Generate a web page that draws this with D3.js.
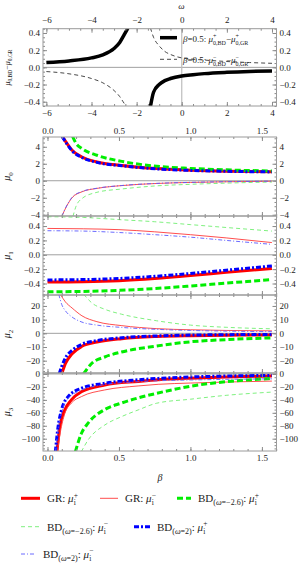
<!DOCTYPE html>
<html>
<head>
<meta charset="utf-8">
<script src="https://cdnjs.cloudflare.com/ajax/libs/d3/7.8.5/d3.min.js"></script>
<style>
body { margin: 0; background: #fff; }
svg text { font-family: "Liberation Serif", "DejaVu Serif", serif; fill: #222; }
</style>
</head>
<body>
<div class="content"></div>
<script>
// VARIABLES
var w = 302,
    h = 572,
    x0 = 43,
    x1 = 276.5,
    serif = '"Liberation Serif", "DejaVu Serif", serif';

// DATA - top panel (beta = 0.5), difference BD - GR against omega
var omPlusL  = [-6, -5, -4, -3.5, -3, -2.75, -2.55, -2.38];
var difPlusL = [0.056, 0.075, 0.11, 0.145, 0.22, 0.29, 0.38, 0.46];
var omPlusR  = [-1.39, -1.25, -1, -0.75, -0.5, 0, 0.5, 1, 2, 3, 4];
var difPlusR = [-0.46, -0.29, -0.2, -0.155, -0.13, -0.1, -0.085, -0.073, -0.058, -0.048, -0.042];
var omMinL   = [-6, -5, -4, -3.5, -3, -2.75, -2.6, -2.45];
var difMinL  = [-0.049, -0.075, -0.13, -0.18, -0.27, -0.34, -0.4, -0.46];
var omMinR   = [-1.39, -1.25, -1, -0.75, -0.5, 0, 0.5, 1, 2, 3, 4];
var difMinR  = [0.46, 0.35, 0.25, 0.185, 0.15, 0.11, 0.095, 0.085, 0.068, 0.056, 0.047];

// DATA - mu0 against beta
var b0GRp = [0.105, 0.137, 0.172, 0.241, 0.346, 0.52, 0.765, 1.0, 1.25, 1.57];
var v0GRp = [5.2, 4.37, 3.59, 2.8, 2.21, 1.8, 1.43, 1.25, 1.13, 1.06];
var b0GRm = [0.1, 0.137, 0.172, 0.241, 0.346, 0.52, 0.765, 1.0, 1.25, 1.57];
var v0GRm = [-4.2, -2.9, -2.0, -1.3, -0.9, -0.57, -0.32, -0.2, -0.12, -0.06];
var b0Ap  = [0.176, 0.2, 0.241, 0.346, 0.52, 0.765, 1.0, 1.25, 1.57];
var v0Ap  = [5.2, 4.4, 3.8, 3.0, 2.28, 1.7, 1.45, 1.28, 1.15];
var b0Am  = [0.178, 0.2, 0.241, 0.346, 0.52, 0.765, 1.0, 1.25, 1.57];
var v0Am  = [-4.2, -3.0, -2.1, -1.36, -0.97, -0.6, -0.42, -0.28, -0.15];
var b0Bp  = [0.103, 0.137, 0.172, 0.241, 0.346, 0.52, 0.765, 1.0, 1.25, 1.57];
var v0Bp  = [5.2, 4.3, 3.52, 2.74, 2.16, 1.76, 1.4, 1.22, 1.11, 1.04];
var b0Bm  = [0.1, 0.137, 0.172, 0.241, 0.346, 0.52, 0.765, 1.0, 1.25, 1.57];
var v0Bm  = [-4.2, -2.85, -1.95, -1.27, -0.88, -0.56, -0.31, -0.19, -0.11, -0.05];

// DATA - mu1 against beta
var b1    = [0, 0.25, 0.5, 0.75, 1.0, 1.25, 1.57];
var v1GRp = [-0.38, -0.375, -0.36, -0.33, -0.29, -0.245, -0.19];
var v1GRm = [0.367, 0.362, 0.35, 0.32, 0.28, 0.235, 0.17];
var v1Ap  = [-0.515, -0.51, -0.495, -0.47, -0.435, -0.395, -0.345];
var v1Am  = [0.53, 0.52, 0.49, 0.46, 0.42, 0.38, 0.33];
var v1Bp  = [-0.35, -0.345, -0.33, -0.3, -0.26, -0.215, -0.155];
var v1Bm  = [0.335, 0.33, 0.31, 0.28, 0.245, 0.2, 0.145];

// DATA - mu2 against beta
var b2GRp = [0.1, 0.125, 0.172, 0.241, 0.346, 0.52, 0.765, 1.0, 1.25, 1.57];
var v2GRp = [-29.5, -22.2, -14.9, -9.5, -6.4, -3.9, -2.3, -1.7, -1.4, -1.2];
var b2GRm = [0.09, 0.125, 0.172, 0.241, 0.346, 0.52, 0.765, 1.0, 1.25, 1.57];
var v2GRm = [28.5, 23, 18.5, 12.8, 8.5, 5.6, 3.4, 2.6, 2.1, 1.8];
var b2Ap  = [0.253, 0.307, 0.4, 0.517, 0.762, 1.0, 1.25, 1.57];
var v2Ap  = [-29.5, -22.2, -17.3, -13.7, -9.3, -6.2, -4.6, -3.3];
var b2Am  = [0.254, 0.307, 0.4, 0.517, 0.762, 1.0, 1.25, 1.57];
var v2Am  = [28.5, 22.5, 17.6, 14, 9.2, 6.0, 4.4, 3.3];
var b2Bp  = [0.082, 0.1, 0.125, 0.172, 0.241, 0.346, 0.52, 0.765, 1.0, 1.25, 1.57];
var v2Bp  = [-29.5, -24, -18, -12.5, -8, -5.3, -3.2, -1.9, -1.3, -1.0, -0.8];
var b2Bm  = [0.079, 0.1, 0.125, 0.172, 0.241, 0.346, 0.52, 0.765, 1.0, 1.25, 1.57];
var v2Bm  = [28.5, 21, 16.5, 11.9, 8.2, 6.0, 4.3, 2.9, 2.1, 1.6, 1.2];

// DATA - mu3 against beta
var b3GRp = [0.066, 0.086, 0.121, 0.167, 0.237, 0.4, 0.634, 0.774, 1.0, 1.25, 1.57];
var v3GRp = [-120, -81.5, -55.6, -40, -27.4, -17, -11.5, -9, -6.5, -4.6, -3.2];
var b3GRm = [0.07, 0.09, 0.12, 0.167, 0.237, 0.4, 0.634, 0.774, 1.0, 1.25, 1.57];
var v3GRm = [-120, -90, -62, -45, -35, -24.7, -18.5, -16, -14, -12.5, -11];
var b3Ap  = [0.195, 0.237, 0.284, 0.4, 0.517, 0.634, 0.762, 1.0, 1.25, 1.57];
var v3Ap  = [-120, -92, -76, -55, -45, -37, -30, -19, -12, -7];
var b3Am  = [0.237, 0.284, 0.4, 0.517, 0.634, 0.762, 1.0, 1.25, 1.57];
var v3Am  = [-120, -102, -79, -66, -55.6, -45.3, -39, -33, -28];
var b3Bp  = [0.055, 0.074, 0.098, 0.144, 0.238, 0.4, 0.634, 0.774, 1.0, 1.25, 1.57];
var v3Bp  = [-120, -81.5, -55.6, -35, -22, -14.4, -9, -6.8, -4.6, -3.2, -2.2];
var b3Bm  = [0.057, 0.076, 0.1, 0.144, 0.238, 0.4, 0.634, 0.774, 1.0, 1.25, 1.57];
var v3Bm  = [-120, -83, -58, -38, -25, -16.5, -12, -10.5, -9.3, -8.3, -7.5];

// TICKS
var omTicks   = [-6, -4, -2, 0, 2, 4];
var difTicks  = [-0.4, -0.2, 0, 0.2, 0.4];
var betaTicks = [0, 0.5, 1.0, 1.5];
var mu0Ticks  = [-4, -2, 0, 2, 4];
var mu1Ticks  = [-0.4, -0.2, 0, 0.2, 0.4];
var mu2Ticks  = [-20, -10, 0, 10, 20];
var mu3Ticks  = [-100, -80, -60, -40, -20, 0];

// STYLES
var stGRp = { c: '#ff0000', w: 3, d: null },
    stGRm = { c: '#ff3a3a', w: 0.9, d: null },
    stAp  = { c: '#00ee00', w: 3, d: '6,3' },
    stAm  = { c: '#70ee70', w: 0.9, d: '4,3' },
    stBp  = { c: '#0000ff', w: 3, d: '5,2,2,2' },
    stBm  = { c: '#5a5aff', w: 0.9, d: '4,2,1,2' };


// PREPARE SVG
var svg = d3.select('.content').append('svg')
    .attr('width', w)
    .attr('height', h)
    .attr('font-family', serif);
svg.append('rect').attr('width', w).attr('height', h).attr('fill', '#fff');

var clipN = 0;

function tidy(s) {
    s.select('.domain').remove();
    s.selectAll('line').attr('stroke', '#8a8a8a');
    s.attr('font-size', 9).attr('font-family', serif);
    s.selectAll('text').attr('fill', '#222').attr('font-family', serif);
}

function addTicks(g, axis, tr, major, minor, fmt, labels, pad) {
    g.append('g').attr('transform', tr)
        .call(axis.tickValues(minor).tickSize(-2).tickFormat(''))
        .call(tidy);
    g.append('g').attr('transform', tr)
        .call(axis.tickValues(major).tickSize(-4).tickPadding(pad || 3).tickFormat(labels ? fmt : ''))
        .call(tidy);
}

function minors(lo, hi, step) {
    return d3.range(Math.ceil(lo / step), Math.floor(hi / step) + 1)
        .map(function(i) { return +(i * step).toFixed(4); });
}

function panel(o) {
    var x = d3.scaleLinear().domain(o.xd).range([x0, x1]);
    var y = d3.scaleLinear().domain(o.yd).range([o.y1, o.y0]);
    var id = 'clip' + (clipN++);
    svg.append('clipPath').attr('id', id).append('rect')
        .attr('x', x0).attr('y', o.y0).attr('width', x1 - x0).attr('height', o.y1 - o.y0);
    var g = svg.append('g');

    g.append('line')
        .attr('x1', x0).attr('x2', x1).attr('y1', y(0)).attr('y2', y(0))
        .attr('stroke', '#a0a0a0').attr('stroke-width', 1);
    if (o.vzero) {
        g.append('line')
            .attr('x1', x(0)).attr('x2', x(0)).attr('y1', o.y0).attr('y2', o.y1)
            .attr('stroke', '#bdbdbd').attr('stroke-width', 1.2);
    }

    var plot = g.append('g').attr('clip-path', 'url(#' + id + ')');

    var ymin = minors(o.yd[0], o.yd[1], o.ystep);
    var xmin = minors(o.xd[0], o.xd[1], o.xstep);
    addTicks(g, d3.axisLeft(y), 'translate(' + x0 + ',0)', o.yt, ymin, o.yf, true, 3);
    addTicks(g, d3.axisRight(y), 'translate(' + x1 + ',0)', o.yt, ymin, o.yf, true, 3);
    addTicks(g, d3.axisTop(x), 'translate(0,' + o.y0 + ')', o.xt, xmin, o.xf, o.topLabels, o.topPad);
    addTicks(g, d3.axisBottom(x), 'translate(0,' + o.y1 + ')', o.xt, xmin, o.xf, o.bottomLabels, 4);

    g.append('rect')
        .attr('x', x0).attr('y', o.y0).attr('width', x1 - x0).attr('height', o.y1 - o.y0)
        .attr('fill', 'none').attr('stroke', '#9a9a9a').attr('stroke-width', 1);

    return { x: x, y: y, plot: plot, g: g };
}

function drawSeries(p, xs, ys, st) {
    var line = d3.line().curve(d3.curveMonotoneX)
        .x(function(d) { return p.x(d[0]); })
        .y(function(d) { return p.y(d[1]); });
    p.plot.append('path')
        .datum(d3.zip(xs, ys))
        .attr('d', line)
        .attr('fill', 'none')
        .attr('stroke', st.c)
        .attr('stroke-width', st.w)
        .attr('stroke-dasharray', st.d);
}


// TOP PANEL
var fmt1 = d3.format('.1f'),
    fmt0 = d3.format('d');

var pTop = panel({
    xd: [-6.15, 4.2], yd: [-0.45, 0.45], y0: 28.7, y1: 106,
    xt: omTicks, xstep: 0.5, xf: fmt0, yt: difTicks, ystep: 0.05, yf: fmt1,
    topLabels: true, bottomLabels: true, topPad: 5.5, vzero: true
});
var stSolid = { c: '#000', w: 3.5, d: null },
    stDash  = { c: '#333', w: 0.9, d: '4,3' };
drawSeries(pTop, omPlusL, difPlusL, stSolid);
drawSeries(pTop, omPlusR, difPlusR, stSolid);
drawSeries(pTop, omMinL, difMinL, stDash);
drawSeries(pTop, omMinR, difMinR, stDash);

// top legend
function diffText(t, sup) {
    t.append('tspan').attr('font-style', 'italic').text('β');
    t.append('tspan').text('=0.5: ');
    ['BD', 'GR'].forEach(function(k, i) {
        if (i) t.append('tspan').attr('dy', -3).text('−');
        t.append('tspan').attr('font-style', 'italic').text('μ');
        t.append('tspan').attr('font-size', 6).attr('dy', -3.5).text(sup);
        t.append('tspan').attr('font-size', 6).attr('dx', -3.4).attr('dy', 6.5).text('0,' + k);
    });
}
svg.append('line').attr('x1', 160).attr('x2', 177).attr('y1', 37.7).attr('y2', 37.7)
    .attr('stroke', stSolid.c).attr('stroke-width', stSolid.w);
diffText(svg.append('text').attr('x', 183).attr('y', 41.5).attr('font-size', 9), '+');
svg.append('line').attr('x1', 160).attr('x2', 177).attr('y1', 59.3).attr('y2', 59.3)
    .attr('stroke', stDash.c).attr('stroke-width', stDash.w).attr('stroke-dasharray', stDash.d);
diffText(svg.append('text').attr('x', 183).attr('y', 62.8).attr('font-size', 9), '−');

// axis labels of top panel
svg.append('text').attr('x', 181.5).attr('y', 8.5).attr('text-anchor', 'middle')
    .attr('font-size', 9).attr('font-style', 'italic').text('ω');
(function() {
    var t = svg.append('text').attr('transform', 'translate(9.5,67.5) rotate(-90)')
        .attr('text-anchor', 'middle').attr('font-size', 8);
    t.append('tspan').attr('font-style', 'italic').text('μ');
    t.append('tspan').attr('font-size', 5.5).attr('dy', 2).text('0,BD');
    t.append('tspan').attr('dy', -2).text('−');
    t.append('tspan').attr('font-style', 'italic').text('μ');
    t.append('tspan').attr('font-size', 5.5).attr('dy', 2).text('0,GR');
})();


// BETA PANELS
var bxd = [-0.0314, 1.6022];

var p0 = panel({
    xd: bxd, yd: [-4.15, 5.15], y0: 137, y1: 216,
    xt: betaTicks, xstep: 0.1, xf: fmt1, yt: mu0Ticks, ystep: 0.5, yf: fmt0,
    topLabels: true, bottomLabels: false, topPad: 3
});
var p1 = panel({
    xd: bxd, yd: [-0.56, 0.54], y0: 216, y1: 295,
    xt: betaTicks, xstep: 0.1, xf: fmt1, yt: mu1Ticks, ystep: 0.05, yf: fmt1,
    topLabels: false, bottomLabels: false
});
var p2 = panel({
    xd: bxd, yd: [-29, 28], y0: 295, y1: 373,
    xt: betaTicks, xstep: 0.1, xf: fmt1, yt: mu2Ticks, ystep: 2.5, yf: fmt0,
    topLabels: false, bottomLabels: false
});
var p3 = panel({
    xd: bxd, yd: [-119, 1.5], y0: 373, y1: 451,
    xt: betaTicks, xstep: 0.1, xf: fmt1, yt: mu3Ticks, ystep: 5, yf: fmt0,
    topLabels: false, bottomLabels: true
});

// series, in legend order
drawSeries(p0, b0GRp, v0GRp, stGRp);
drawSeries(p0, b0GRm, v0GRm, stGRm);
drawSeries(p0, b0Ap, v0Ap, stAp);
drawSeries(p0, b0Am, v0Am, stAm);
drawSeries(p0, b0Bp, v0Bp, stBp);
drawSeries(p0, b0Bm, v0Bm, stBm);

drawSeries(p1, b1, v1GRp, stGRp);
drawSeries(p1, b1, v1GRm, stGRm);
drawSeries(p1, b1, v1Ap, stAp);
drawSeries(p1, b1, v1Am, stAm);
drawSeries(p1, b1, v1Bp, stBp);
drawSeries(p1, b1, v1Bm, stBm);

drawSeries(p2, b2GRp, v2GRp, stGRp);
drawSeries(p2, b2GRm, v2GRm, stGRm);
drawSeries(p2, b2Ap, v2Ap, stAp);
drawSeries(p2, b2Am, v2Am, stAm);
drawSeries(p2, b2Bp, v2Bp, stBp);
drawSeries(p2, b2Bm, v2Bm, stBm);

drawSeries(p3, b3GRp, v3GRp, stGRp);
drawSeries(p3, b3GRm, v3GRm, stGRm);
drawSeries(p3, b3Ap, v3Ap, stAp);
drawSeries(p3, b3Am, v3Am, stAm);
drawSeries(p3, b3Bp, v3Bp, stBp);
drawSeries(p3, b3Bm, v3Bm, stBm);

// y labels of beta panels
[[p0, '0'], [p1, '1'], [p2, '2'], [p3, '3']].forEach(function(d) {
    var yc = (d[0].y.range()[0] + d[0].y.range()[1]) / 2;
    var t = svg.append('text').attr('transform', 'translate(10,' + yc + ') rotate(-90)')
        .attr('text-anchor', 'middle').attr('font-size', 10);
    t.append('tspan').attr('font-style', 'italic').text('μ');
    t.append('tspan').attr('font-size', 7).attr('dy', 2.5).text(d[1]);
});
svg.append('text').attr('x', 160).attr('y', 481).attr('text-anchor', 'middle')
    .attr('font-size', 10).attr('font-style', 'italic').text('β');


// LEGEND
function muSym(t, sup) {
    t.append('tspan').attr('font-style', 'italic').text('μ');
    t.append('tspan').attr('font-size', 7.5).attr('dy', -4.5).text(sup);
    t.append('tspan').attr('font-size', 7.5).attr('dx', -4.2).attr('dy', 7.5).text('i');
}
function legendItem(lx, ly, len, st, kind, om, sup) {
    svg.append('line').attr('x1', lx).attr('x2', lx + len).attr('y1', ly).attr('y2', ly)
        .attr('stroke', st.c).attr('stroke-width', st.w).attr('stroke-dasharray', st.d);
    var t = svg.append('text').attr('x', lx + len + 7).attr('y', ly + 3.8).attr('font-size', 11);
    if (kind === 'GR') {
        t.append('tspan').text('GR: ');
    } else {
        t.append('tspan').text('BD');
        t.append('tspan').attr('font-size', 8).attr('dy', 3).text('(');
        t.append('tspan').attr('font-size', 8).attr('font-style', 'italic').text('ω');
        t.append('tspan').attr('font-size', 8).text('=' + om + ')');
        t.append('tspan').attr('dy', -3).text(': ');
    }
    muSym(t, sup);
}
legendItem(21, 498.3, 19, stGRp, 'GR', null, '+');
legendItem(100, 498.3, 18, stGRm, 'GR', null, '−');
legendItem(177, 498.3, 14, stAp, 'BD', '−2.6', '+');
legendItem(21, 526.7, 19, stAm, 'BD', '−2.6', '−');
legendItem(134, 526.7, 16, stBp, 'BD', '2', '+');
legendItem(21, 554, 15, stBm, 'BD', '2', '−');
</script>
</body>
</html>
